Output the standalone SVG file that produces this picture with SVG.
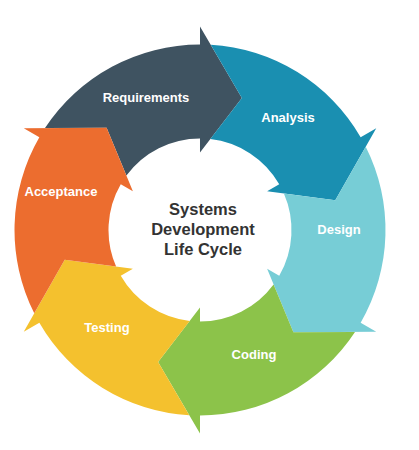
<svg xmlns="http://www.w3.org/2000/svg" xmlns:xlink="http://www.w3.org/1999/xlink" width="419" height="450" viewBox="0 0 419 450">
  <style>
    .lbl { font-family: "Liberation Sans", Arial, sans-serif; font-weight: bold; font-size: 13px; fill: #ffffff; text-anchor: middle; }
    .title { font-family: "Liberation Sans", Arial, sans-serif; font-weight: bold; font-size: 16.5px; fill: #333333; text-anchor: middle; }
  </style>
  <defs>
    <path id="seg" d="M 10.73,-185.19 A 185.5 185.5 0 0 1 160.65,-92.75 L 176.24,-101.75 L 135.27,-29.74 L 67.12,-38.75 L 79.24,-45.75 A 91.5 91.5 0 0 0 10.31,-90.92 L 41.88,-132.02 Z"/>
  </defs>
  <rect x="0" y="0" width="419" height="450" fill="#ffffff"/>
  <g id="requirements">
    <use xlink:href="#seg" href="#seg" transform="translate(200 230) rotate(-60)" fill="#3f5361"/>
    <text class="lbl" x="146" y="101.7">Requirements</text>
  </g>
  <g id="analysis">
    <use xlink:href="#seg" href="#seg" transform="translate(200 230)" fill="#1a8fb1"/>
    <text class="lbl" x="288" y="121.7">Analysis</text>
  </g>
  <g id="design">
    <use xlink:href="#seg" href="#seg" transform="translate(200 230) rotate(60)" fill="#77cdd6"/>
    <text class="lbl" x="339" y="234.3">Design</text>
  </g>
  <g id="coding">
    <use xlink:href="#seg" href="#seg" transform="translate(200 230) rotate(120)" fill="#8cc34a"/>
    <text class="lbl" x="254" y="359">Coding</text>
  </g>
  <g id="testing">
    <use xlink:href="#seg" href="#seg" transform="translate(200 230) rotate(180)" fill="#f4c12e"/>
    <text class="lbl" x="107" y="331.7">Testing</text>
  </g>
  <g id="acceptance">
    <use xlink:href="#seg" href="#seg" transform="translate(200 230) rotate(240)" fill="#ec6d2f"/>
    <text class="lbl" x="61" y="196">Acceptance</text>
  </g>
  <g id="center-title">
    <text class="title" x="203" y="215">Systems</text>
    <text class="title" x="203" y="235">Development</text>
    <text class="title" x="203" y="255">Life Cycle</text>
  </g>
</svg>
